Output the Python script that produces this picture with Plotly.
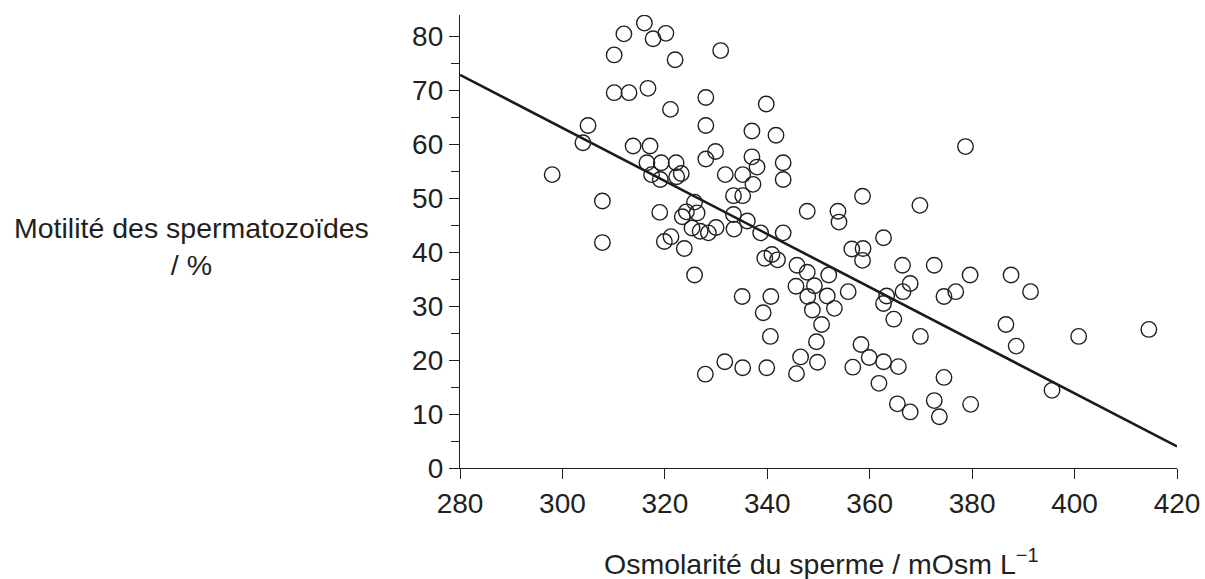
import plotly.graph_objects as go

# Scatter data: osmolarity (mOsm/L) vs sperm motility (%)
osmolarity = [
    298.0, 304.0, 305.0, 307.8, 307.8, 310.1, 310.1, 312.0, 313.0, 313.8,
    316.0, 316.5, 316.7, 317.1, 317.4, 317.7, 319.0, 319.1, 319.3, 319.9,
    320.2, 321.1, 321.2, 322.0, 322.2, 322.3, 323.2, 323.4, 323.8, 324.2,
    325.3, 325.8, 325.8, 326.3, 326.9, 327.9, 328.0, 328.0, 328.0, 328.5,
    329.9, 330.0, 330.9, 331.7, 331.8, 333.4, 333.4, 333.5, 335.2, 335.2,
    335.1, 335.2, 336.1, 337.0, 337.0, 337.2, 338.0, 338.7, 339.2, 339.5,
    339.8, 339.9, 340.6, 340.7, 340.9, 341.7, 342.0, 343.1, 343.1, 343.1,
    345.6, 345.7, 345.8, 346.5, 347.8, 347.8, 347.9, 348.8, 349.2, 349.6,
    349.8, 350.6, 351.7, 352.0, 353.1, 353.8, 354.0, 355.8, 356.5, 356.7,
    358.3, 358.6, 358.6, 358.7, 359.9, 361.8, 362.7, 362.7, 362.7, 363.3,
    364.7, 365.4, 365.6, 366.4, 366.5, 367.9, 367.9, 369.8, 369.9, 372.6,
    372.6, 373.6, 374.5, 374.5, 376.8, 378.7, 379.6, 379.7, 386.6, 387.6,
    388.6, 391.4, 395.6, 400.8, 414.5,
]
motility = [
    54.4, 60.3, 63.5, 49.5, 41.8, 76.6, 69.6, 80.5, 69.6, 59.7,
    82.5, 56.6, 70.4, 59.7, 54.4, 79.6, 47.4, 53.5, 56.6, 42.0,
    80.6, 66.5, 42.9, 75.7, 56.6, 54.0, 54.6, 46.6, 40.7, 47.5,
    44.5, 49.3, 35.8, 47.3, 43.9, 17.4, 68.7, 63.5, 57.3, 43.6,
    58.7, 44.6, 77.4, 19.7, 54.4, 50.5, 47.0, 44.3, 54.4, 50.5,
    31.8, 18.6, 45.8, 62.5, 57.7, 52.6, 55.8, 43.6, 28.8, 38.9,
    67.5, 18.6, 24.4, 31.8, 39.6, 61.7, 38.6, 56.6, 53.5, 43.6,
    33.7, 17.5, 37.6, 20.6, 47.6, 36.3, 31.8, 29.3, 33.8, 23.4,
    19.6, 26.6, 31.9, 35.8, 29.6, 47.6, 45.6, 32.7, 40.6, 18.7,
    22.9, 50.4, 38.5, 40.7, 20.5, 15.7, 42.7, 30.5, 19.7, 31.9,
    27.6, 11.9, 18.8, 37.6, 32.7, 34.2, 10.4, 48.7, 24.4, 37.6,
    12.5, 9.5, 31.8, 16.8, 32.7, 59.6, 35.8, 11.8, 26.6, 35.8,
    22.6, 32.7, 14.4, 24.4, 25.7,
]

# Regression line end points
fit_x = [280, 420]
fit_y = [72.9, 4.0]

x_ticks = [280, 300, 320, 340, 360, 380, 400, 420]
y_ticks = [0, 10, 20, 30, 40, 50, 60, 70, 80]

x_title = "Osmolarité du sperme / mOsm L<sup>\u22121</sup>"
y_title = "Motilité des spermatozoïdes<br>/ %"

ink = "#231f20"
font_family = "Liberation Sans, Arial, sans-serif"

fig = go.Figure()
fig.add_trace(go.Scatter(
    x=fit_x, y=fit_y, mode="lines",
    line=dict(color="#1a1a1a", width=2.6),
    hoverinfo="skip", showlegend=False,
))
fig.add_trace(go.Scatter(
    x=osmolarity, y=motility, mode="markers",
    marker=dict(symbol="circle-open", size=15.5, color=ink,
                line=dict(color=ink, width=1.4)),
    showlegend=False,
))

fig.update_layout(
    width=1205, height=579,
    margin=dict(l=460, r=28, t=15, b=111),
    paper_bgcolor="white", plot_bgcolor="white",
    font=dict(family=font_family, size=28, color=ink),
    xaxis=dict(
        range=[280, 420], tickvals=x_ticks, ticks="outside", ticklen=10,
        tickwidth=1.3, tickcolor=ink, showline=True, linecolor=ink,
        linewidth=1.3, showgrid=False, zeroline=False, automargin=False,
        tickfont=dict(size=28, color=ink),
    ),
    yaxis=dict(
        range=[0, 84], tickvals=y_ticks, ticks="outside", ticklen=10,
        tickwidth=1.3, tickcolor=ink, showline=True, linecolor=ink,
        linewidth=1.3, showgrid=False, zeroline=False, automargin=False,
        tickfont=dict(size=28, color=ink),
        minor=dict(dtick=5, tick0=0, ticks="outside", ticklen=8,
                   tickwidth=1.3, tickcolor=ink, showgrid=False),
    ),
    annotations=[
        dict(text=x_title, xref="paper", yref="paper", x=0.5035, y=-0.207,
             xanchor="center", yanchor="middle", showarrow=False,
             font=dict(size=28.5, color=ink)),
        dict(text=y_title, xref="paper", yref="paper", x=-0.3738, y=0.489,
             xanchor="center", yanchor="middle", align="center",
             showarrow=False, font=dict(size=28.5, color=ink)),
    ],
)

fig.write_html("out.html")
